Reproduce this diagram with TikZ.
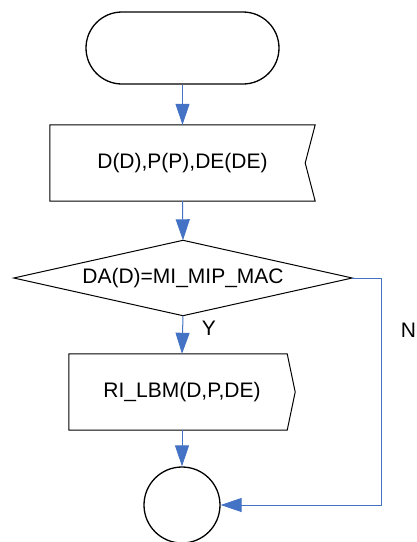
\documentclass[tikz,border=0pt]{standalone}
\usepackage{fontspec}
\setmainfont{Liberation Sans}
\usetikzlibrary{arrows.meta}
\definecolor{flowblue}{HTML}{4472C4}
\begin{document}
\begin{tikzpicture}[x=1pt,y=-1pt,
  lbl/.style={font=\fontsize{21}{25}\selectfont, inner sep=0pt},
  outline/.style={draw=black, line width=1pt},
  termline/.style={draw=black, line width=1.3pt},
  flow/.style={draw=flowblue, line width=1pt, -{Triangle[length=21pt,width=14pt]}}]
\useasboundingbox (0,0) rectangle (416,542);
% start terminator
\node[termline, rounded corners=36pt, minimum width=193pt, minimum height=72pt, inner sep=0pt] (s) at (182.5,48) {};
% input box with notch on right
\node[lbl, minimum width=265pt, minimum height=76pt] (b2) at (182.5,163) {D(D),P(P),DE(DE)};
\draw[outline] (b2.north west) -- (b2.north east) -- ([xshift=-10pt]b2.east) -- (b2.south east) -- (b2.south west) -- cycle;
% decision
\node[lbl, minimum width=338pt, minimum height=75pt] (d) at (183,278) {DA(D)=MI\_MIP\_MAC};
\draw[outline] (d.north) -- (d.east) -- (d.south) -- (d.west) -- cycle;
% process box pointed right
\node[lbl, minimum width=226pt, minimum height=76pt] (b3) at (182,392) {RI\_LBM(D,P,DE)};
\draw[outline] (b3.north west) -- ([xshift=-8pt]b3.north east) -- (b3.east) -- ([xshift=-8pt]b3.south east) -- (b3.south west) -- cycle;
% end circle
\node[termline, circle, minimum size=76pt, inner sep=0pt] (e) at (182,505) {};
% connectors
\draw[flow] (s.south) -- (b2.north);
\draw[flow] (b2.south) -- (d.north);
\draw[flow] (d.south) -- (b3.north);
\draw[flow] (b3.south -| e.north) -- (e.north);
\coordinate (n1) at (381,278);
\draw[flow] (d.east) -- (n1) |- (e.east);
% labels
\node[lbl] (ly) at (209,328) {Y};
\node[lbl] (ln) at (408.5,330) {N};
\end{tikzpicture}
\end{document}
